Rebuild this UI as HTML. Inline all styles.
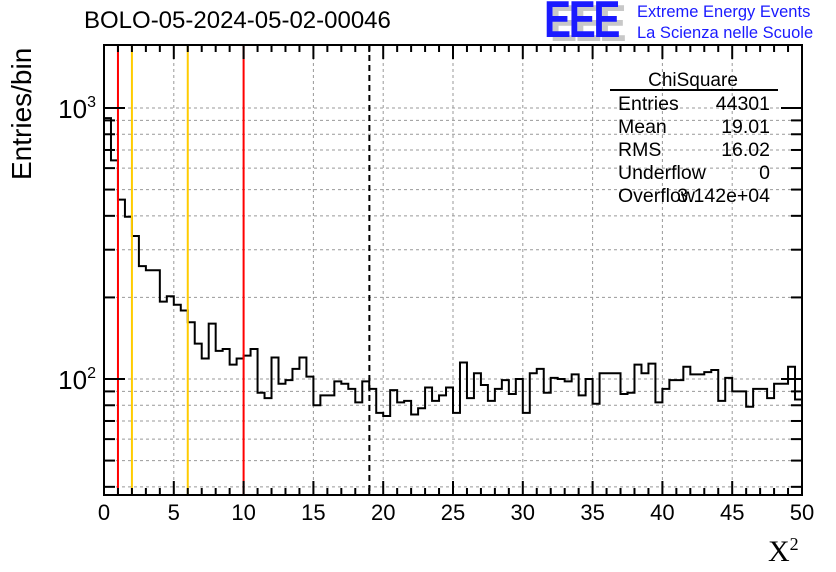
<!DOCTYPE html>
<html><head><meta charset="utf-8"><style>
body{margin:0;background:#fff;}
svg{display:block;font-family:"Liberation Sans",sans-serif;}
</style></head><body>
<svg id="c" width="836" height="572" viewBox="0 0 836 572"></svg>
<script>
const binWidth = 0.5;
const counts = [918,641,459,397,337,261,252,252,193,202,188,179,162,135,119,160,127,129,113,119,122,129,89,85,120,96,99,109,120,102,80,87,87,98,96,92,82,98,92,
75,73,91,82,83,74,78,93,83,87,93,75,115,85,105,95,83,92,99,88,100,75,105,109,89,101,100,98,104,87,100,
81,105,105,105,88,89,113,105,114,82,92,99,99,111,104,104,106,108,83,101,90,90,79,92,92,85,96,96,111,84];
const xTicks = [0,5,10,15,20,25,30,35,40,45,50];
const redCuts = [1,10];
const orangeCuts = [2,6];
const meanValue = 19.01;
const statsLabels = ["Entries","Mean","RMS","Underflow","Overflow"];
const statsValues = ["44301","19.01","16.02","0","3.142e+04"];

const L=104,R=802,T=45,B=495;
const Y3=108,Y2=379;
const xs=v=>L+(v-0)/(50-0)*(R-L);
const ys=v=>Y2-(Math.log10(v)-2)*(Y2-Y3);
const yMin=Math.pow(10,2-(B-Y2)/(Y2-Y3));
const svg=document.getElementById('c');
const NS='http://www.w3.org/2000/svg';
function mk(tag,attrs,parent){const e=document.createElementNS(NS,tag);for(const k in attrs)e.setAttribute(k,attrs[k]);(parent||svg).appendChild(e);return e;}

const grid=mk('g',{});


xTicks.forEach(t=>{if(t>0&&t<50)mk('line',{x1:xs(t),x2:xs(t),y1:T,y2:B,stroke:'#999','stroke-dasharray':'3,3','stroke-width':1},grid);});
const logTicks=[];
for(let d=1;d<=1000;d*=10)for(let m=1;m<10;m++){const v=d*m;if(v>yMin&&ys(v)>T)logTicks.push(v);}
logTicks.forEach(v=>mk('line',{x1:L,x2:R,y1:ys(v),y2:ys(v),stroke:'#999','stroke-dasharray':'3,3','stroke-width':1},grid));

let d='';
counts.forEach((c,i)=>{const x0=xs(i*binWidth),x1=xs((i+1)*binWidth),y=ys(c);d+=(i===0?`M${x0},${y}`:`L${x0},${y}`)+`L${x1},${y}`;});
const hist=mk('path',{d:d,fill:'none',stroke:'#000','stroke-width':2});



redCuts.forEach(v=>{const l=mk('line',{x1:xs(v),x2:xs(v),y1:T,y2:B,stroke:'#f00','stroke-width':2});

});
orangeCuts.forEach(v=>{const l=mk('line',{x1:xs(v),x2:xs(v),y1:T,y2:B,stroke:'#fc0','stroke-width':2});

});
const ml=mk('line',{x1:xs(meanValue),x2:xs(meanValue),y1:T,y2:B,stroke:'#000','stroke-width':2,'stroke-dasharray':'6,4'});



const fr=mk('rect',{x:L,y:T,width:R-L,height:B-T,fill:'none',stroke:'#000','stroke-width':2});



const xax=mk('g',{});


for(let t=0;t<=50;t++){const major=t%5===0;const len=major?14:7;
mk('line',{x1:xs(t),x2:xs(t),y1:B,y2:B-len,stroke:'#000','stroke-width':2},xax);
mk('line',{x1:xs(t),x2:xs(t),y1:T,y2:T+len,stroke:'#000','stroke-width':2},xax);}
xTicks.forEach(t=>{const tx=mk('text',{x:xs(t),y:520,'font-size':22,'text-anchor':'middle'},xax);tx.textContent=t;});

const yax=mk('g',{});


logTicks.forEach(v=>{const major=Math.abs(Math.log10(v)%1)<1e-9;const len=major?21:11;
mk('line',{x1:L,x2:L+len,y1:ys(v),y2:ys(v),stroke:'#000','stroke-width':2},yax);
mk('line',{x1:R,x2:R-len,y1:ys(v),y2:ys(v),stroke:'#000','stroke-width':2},yax);});
[2,3].forEach(p=>{const tx=mk('text',{x:96,y:ys(Math.pow(10,p))+10,'font-size':26,'text-anchor':'end'},yax);
tx.innerHTML='10<tspan dy="-11" font-size="16">'+p+'</tspan>';});

const st=mk('g',{});


const stt=mk('text',{x:693,y:86,'font-size':19,'text-anchor':'middle'},st);stt.textContent='ChiSquare';
mk('line',{x1:610,x2:778,y1:90,y2:90,stroke:'#000','stroke-width':2},st);
statsLabels.forEach((s,i)=>{const y=110+i*23;
const a=mk('text',{x:618,y:y,'font-size':19.5},st);a.textContent=s;
const b=mk('text',{x:770,y:y,'font-size':19.5,'text-anchor':'end'},st);b.textContent=statsValues[i];});
</script>
<div style="position:absolute;left:84px;top:7px;font:24px 'Liberation Sans',sans-serif;">BOLO-05-2024-05-02-00046</div>
<div style="position:absolute;left:6px;top:180px;transform:rotate(-90deg);transform-origin:0 0;font:28px 'Liberation Sans',sans-serif;white-space:nowrap;">Entries/bin</div>
<div style="position:absolute;left:768px;top:534px;font:30px 'Liberation Serif',serif;">X<sup style="font-size:18px;">2</sup></div>
<div style="position:absolute;left:544px;top:0px;width:86px;height:42px;">
<div style="position:absolute;left:6px;top:2px;font:bold 52px/44px 'Liberation Sans',sans-serif;color:#c8c8c8;letter-spacing:-3px;transform:scaleX(0.78);transform-origin:0 0;">EEE</div>
<div style="position:absolute;left:0px;top:-2px;font:bold 52px/44px 'Liberation Sans',sans-serif;color:#1a1aff;letter-spacing:-3px;transform:scaleX(0.78);transform-origin:0 0;">EEE</div></div>
<div style="position:absolute;left:637px;top:2px;font:16.5px/21px 'Liberation Sans',sans-serif;color:#1a1aff;">Extreme Energy Events<br>La Scienza nelle Scuole</div>
</body></html>
